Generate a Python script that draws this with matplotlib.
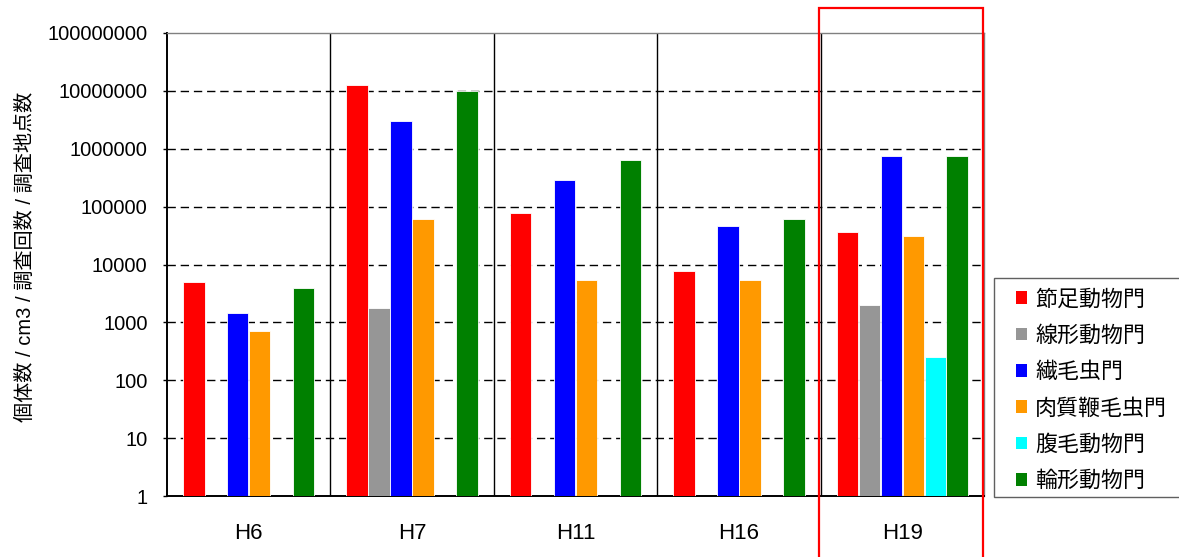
import numpy as np
import matplotlib
matplotlib.use("Agg")
import matplotlib.pyplot as plt
from matplotlib.patches import Patch, Rectangle

plt.rcParams['font.family'] = ['Liberation Sans', 'Noto Sans CJK JP', 'DejaVu Sans']

# Survey years and phylum series (individuals / cm3 / surveys / sites)
years = ["H6", "H7", "H11", "H16", "H19"]
phyla = ["節足動物門", "線形動物門", "繊毛虫門", "肉質鞭毛虫門", "腹毛動物門", "輪形動物門"]
colors = ["#FF0000", "#969696", "#0000FF", "#FF9900", "#00FFFF", "#008000"]

arthropoda = [5000, 12500000, 77000, 7700, 36000]
nematoda = [None, 1750, None, None, 2000]
ciliophora = [1450, 3000000, 290000, 46000, 760000]
sarcomastigophora = [720, 60000, 5400, 5400, 31000]
gastrotricha = [None, None, None, None, 250]
rotifera = [4000, 10000000, 640000, 60000, 750000]

series = [arthropoda, nematoda, ciliophora, sarcomastigophora, gastrotricha, rotifera]
ytick_vals = [1, 10, 100, 1000, 10000, 100000, 1000000, 10000000, 100000000]

W, H = 1179, 557
fig = plt.figure(figsize=(W / 100, H / 100), dpi=100)
ax = fig.add_axes([167 / W, 1 - 496 / H, (984 - 167) / W, (496 - 33) / H])
ax.set_yscale("log")

x = np.arange(len(years))
step = 0.1346
width = 0.132
for i, (vals, col) in enumerate(zip(series, colors)):
    for gx, v in zip(x, vals):
        if v is None:
            continue
        ax.bar(gx + (i - 2.5) * step, v, width=width, bottom=1, color=col,
               edgecolor="white", linewidth=0.6, zorder=3)

ax.set_xlim(-0.5, len(years) - 0.5)
ax.set_ylim(1, 1e8)

# group separators
for b in x[:-1] + 0.5:
    ax.axvline(b, color="black", lw=1.0, zorder=2)

# dashed decade gridlines
for v in ytick_vals[1:-1]:
    ax.axhline(v, color="black", lw=1.0, linestyle=(0, (6, 3.5)), zorder=1)

ax.set_yticks(ytick_vals)
ax.set_yticklabels([str(v) for v in ytick_vals])
ax.yaxis.set_minor_locator(matplotlib.ticker.NullLocator())
ax.tick_params(axis="y", direction="out", length=3, width=1, labelsize=14.5, pad=11)
ax.set_xticks(x)
ax.set_xticklabels(years)
ax.tick_params(axis="x", length=0, labelsize=16, pad=19.5)

for s in ["left", "bottom"]:
    ax.spines[s].set_color("black")
    ax.spines[s].set_linewidth(1.4)
for s in ["top", "right"]:
    ax.spines[s].set_color("#808080")
    ax.spines[s].set_linewidth(1.0)

fig.text(25 / W, 1 - 257 / H, "個体数 / cm3 / 調査回数 / 調査地点数",
         rotation=90, ha="center", va="center", fontsize=14.5)

# legend frame runs off the right edge of the figure
fig.patches.append(Rectangle((994 / W, 1 - 497 / H), 200 / W, (497 - 278) / H,
                             transform=fig.transFigure, facecolor="white",
                             edgecolor="#606060", linewidth=1.0, zorder=5))
handles = [Patch(facecolor=c, edgecolor="none") for c in colors]
leg = fig.legend(handles, phyla, loc="upper left", bbox_to_anchor=(1007 / W, 1 - 280 / H),
                 frameon=False, fontsize=15.8, handlelength=0.5, handleheight=0.5,
                 handletextpad=0.36, labelspacing=0.7, borderpad=0.43, borderaxespad=0)
leg.set_zorder(6)

# highlight box around the latest survey
fig.patches.append(Rectangle((819 / W, -0.05), (983 - 819) / W, 1.05 - 8 / H,
                             transform=fig.transFigure, fill=False, edgecolor="#FF0000",
                             linewidth=1.6, zorder=10))

fig.savefig("out.png", dpi=100)
